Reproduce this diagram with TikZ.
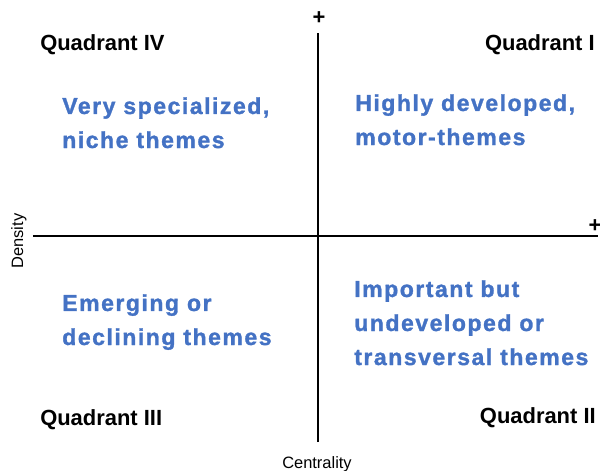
\documentclass[tikz,border=0pt]{standalone}
\usepackage{fontspec}
\setmainfont{Liberation Sans}
\newfontfamily\themefont[LetterSpace=6.5,BoldFeatures={FakeBold=1.3}]{Liberation Sans}
\usetikzlibrary{positioning}
\definecolor{themeblue}{RGB}{68,114,196}

\begin{document}
\begin{tikzpicture}[
    axis/.style={line width=2.1pt},
    quadlabel/.style={inner sep=0pt,font=\bfseries\fontsize{15.6}{18}\selectfont},
    theme/.style={inner sep=0pt,align=left,text=themeblue,
        font=\themefont\bfseries\fontsize{16.4}{24.2}\selectfont},
    axislabel/.style={inner sep=0pt,font=\fontsize{11.7}{14}\selectfont}
    ]
    \useasboundingbox (-7.95,-5.875) rectangle (7.05,5.9);
    % axes
    \coordinate (left) at (-7.125,0);
    \coordinate (right) at (7.0,0);
    \coordinate (top) at (0,5.075);
    \coordinate (bottom) at (0,-5.15);
    \draw[axis] (left) -- (right);
    \draw[axis] (bottom) -- (top);
    \node[quadlabel] (yplus) at (0.025,5.45) {+};
    \node[quadlabel] (xplus) at (6.925,0.25) {+};
    \node[axislabel,rotate=90] (ylabel) at (-7.475,-0.125) {Density};
    \node[axislabel,anchor=base] (xlabel) at (-0.025,-5.8) {Centrality};

    % quadrant names
    \node[quadlabel,anchor=base west] (q4) at (-6.95,4.625) {Quadrant IV};
    \node[quadlabel,anchor=base east] (q1) at (6.925,4.625) {Quadrant I};
    \node[quadlabel,anchor=base west] (q3) at (-6.95,-4.725) {Quadrant III};
    \node[quadlabel,anchor=base east] (q2) at (6.95,-4.68) {Quadrant II};

    % themes
    \node[theme,anchor=north west] (niche) at (-6.4,3.475) {Very specialized,\\niche themes};
    \node[theme,anchor=north west] (motor) at (0.925,3.55) {Highly developed,\\motor-themes};
    \node[theme,anchor=north west] (emerging) at (-6.4,-1.45) {Emerging or\\declining themes};
    \node[theme,anchor=north west] (basic) at (0.9,-1.1) {Important but\\undeveloped or\\transversal themes};
\end{tikzpicture}
\end{document}
